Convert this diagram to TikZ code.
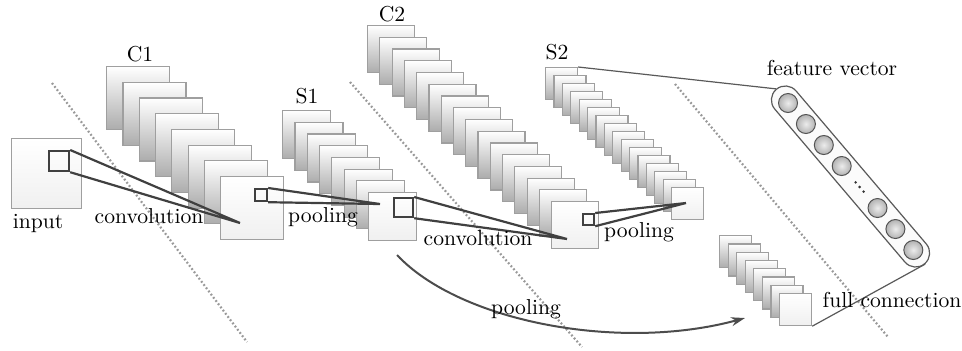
\documentclass[tikz,border=0pt]{standalone}
\usepackage{amsmath}
\usepackage{tikz}
\usetikzlibrary{arrows.meta}

\tikzset{
  fmap/.style={draw=gray!75, line width=0.6pt, top color=white, bottom color=gray!65,
    minimum size=#1, inner sep=0pt, anchor=north west},
  front/.style={top color=white, bottom color=gray!12},
  window/.style={draw=gray!50!black, line width=1.1pt, minimum size=#1, inner sep=0pt, anchor=north west},
  link/.style={draw=gray!50!black, line width=1.1pt},
  thinlink/.style={draw=gray!70!black, line width=0.6pt},
  sep/.style={gray!80, line width=1.1pt, dash pattern=on 0.9pt off 1.1pt},
  neuron/.style={circle, draw=gray!65!black, line width=0.5pt, inner color=gray!15, outer color=gray!60,
    minimum size=9.5pt, inner sep=0pt},
  lbl/.style={font=\fontsize{10.8}{12}\selectfont, inner sep=0pt},
}

\begin{document}
\begin{tikzpicture}[x=0.5pt, y=-0.5pt]
            \useasboundingbox (0,0) rectangle (962,350);

            % dotted separators
            \draw[sep] (52,83) -- (247,342);
            \draw[sep] (350,82) -- (582,347);
            \draw[sep] (675,84) -- (888,337);

            % input
            \node[fmap=35pt, front] (in) at (11,138) {};
            \node[window=10pt] (w0) at (48,150) {};

            % C1
            \foreach \i in {1,...,7}
                \node[fmap=31.5pt] (c1-\i) at ({106+(\i-1)*16.3},{66+(\i-1)*15.7}) {};
            \node[fmap=31.5pt, front] (c1-8) at (220,176) {};
            \node[window=6pt] (w1) at (254,188) {};

            % S1
            \foreach \i in {1,...,7}
                \node[fmap=24pt] (s1-\i) at ({282+(\i-1)*12.3},{110+(\i-1)*11.7}) {};
            \node[fmap=24pt, front] (s1-8) at (368,192) {};
            \node[window=9.5pt] (w2) at (393,197) {};

            % C2
            \foreach \i in {1,...,15}
                \node[fmap=23.5pt] (c2-\i) at ({367+(\i-1)*12.27},{25+(\i-1)*11.73}) {};
            \node[fmap=23.5pt, front] (c2-16) at (551,201) {};
            \node[window=5.5pt] (w3) at (582,213) {};

            % S2
            \foreach \i in {1,...,15}
                \node[fmap=16pt] (s2-\i) at ({545+(\i-1)*8.4},{67+(\i-1)*8}) {};
            \node[fmap=16pt, front] (s2-16) at (671,187) {};

            % full connection maps
            \foreach \i in {1,...,7}
                \node[fmap=16pt] (fc-\i) at ({719+(\i-1)*8.57},{235+(\i-1)*8.29}) {};
            \node[fmap=16pt, front] (fc-8) at (779,293) {};

            % feature vector
            \node[draw=gray!70!black, line width=0.6pt, fill=gray!3, rounded corners=7pt,
                  minimum width=114.5pt, minimum height=14pt, inner sep=0pt, rotate=-49.6] (fv) at (850.5,176.5) {};
            \foreach \k in {0,1,2,3,5,6,7}
                \node[neuron] (n\k) at ({788+\k*17.9},{103+\k*21}) {};
            \foreach \d in {-0.22,0,0.22}
                \fill[black!80] ({788+(4+\d)*17.9},{103+(4+\d)*21}) circle (0.7pt);

            % receptive fields
            \coordinate (p1) at (240,223);
            \coordinate (p2) at (380,204);
            \coordinate (p3) at (567,239);
            \coordinate (p4) at (686,203);
            \draw[link] (w0.north east) -- (p1) (w0.south east) -- (p1);
            \draw[link] (w1.north east) -- (p2) (w1.south east) -- (p2);
            \draw[link] (w2.north east) -- (p3) (w2.south east) -- (p3);
            \draw[link] (w3.north east) -- (p4) (w3.south east) -- (p4);

            \draw[thinlink] (s2-1.north east) -- (fv.west);
            \draw[thinlink] (fv.east) -- (fc-8.south east);

            % pooling arrow
            \coordinate (a0) at (397,255);
            \coordinate (a1) at (745,318);
            \draw[gray!60!black, line width=1pt, -{Stealth[length=7pt, width=4.5pt]}] (a0) .. controls (460,322) and (620,352) .. (a1);

            % labels
            \node[lbl] (t-c1) at (140,54) {C1};
            \node[lbl] (t-s1) at (307,96) {S1};
            \node[lbl] (t-c2) at (392,14) {C2};
            \node[lbl] (t-s2) at (557,52) {S2};
            \node[lbl] (t-in) at (38,223) {input};
            \node[lbl] (t-conv1) at (149,216) {convolution};
            \node[lbl] (t-pool1) at (323,217) {pooling};
            \node[lbl] (t-conv2) at (478,238) {convolution};
            \node[lbl] (t-pool2) at (639,232) {pooling};
            \node[lbl] (t-pool3) at (526,309) {pooling};
            \node[lbl] (t-fc) at (892,300) {full connection};
            \node[lbl] (t-fv) at (832,68) {feature vector};
        \end{tikzpicture}
\end{document}
